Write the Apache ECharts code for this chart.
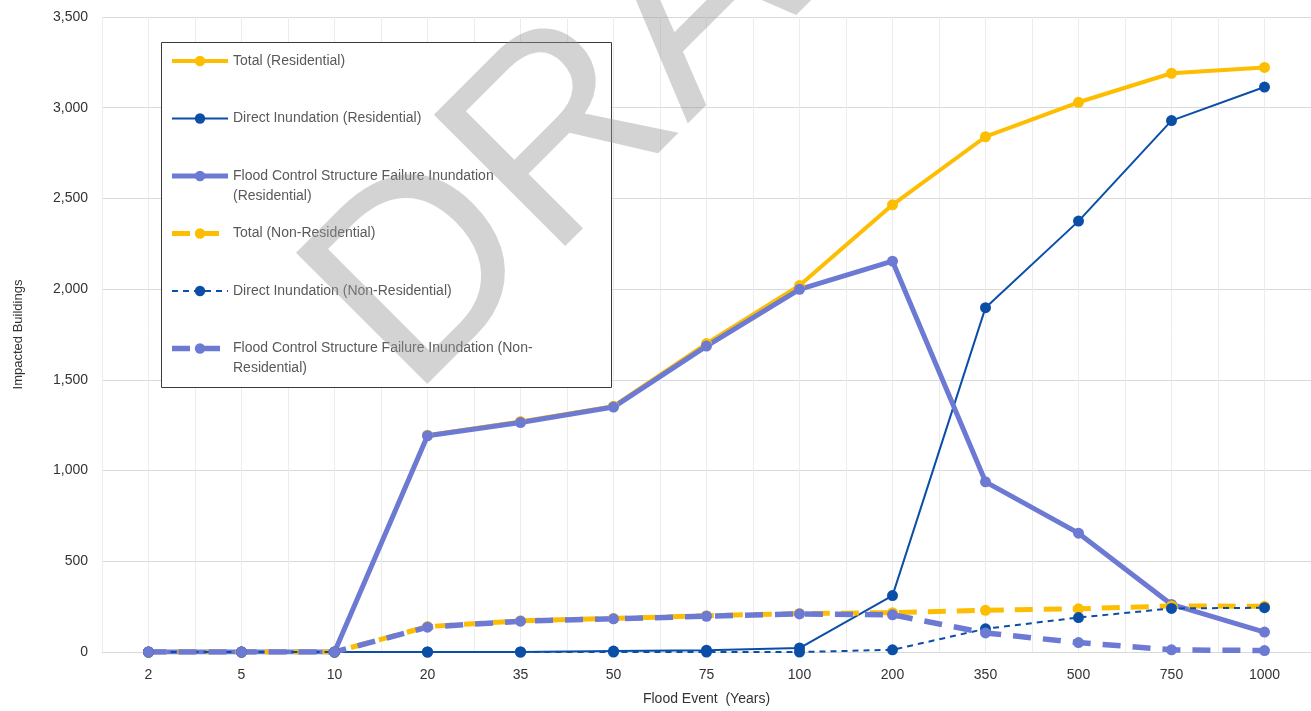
<!DOCTYPE html>
<html>
<head>
<meta charset="utf-8">
<title>Impacted Buildings by Flood Event</title>
<script src="https://cdn.jsdelivr.net/npm/echarts@6/dist/echarts.min.js"></script>
<style>
  html, body { margin: 0; padding: 0; background: #fff; }
  #chart { width: 1311px; height: 711px; }
</style>
</head>
<body>
<div id="chart"></div>
<script>
var floodEvents = ['2', '5', '10', '20', '35', '50', '75', '100', '200', '350', '500', '750', '1000']
var yTicks = [0, 500, 1000, 1500, 2000, 2500, 3000, 3500]

var totalRes = [0, 0, 0, 1195, 1270, 1355, 1700, 2020, 2465, 2840, 3030, 3190, 3222]
var directRes = [0, 0, 0, 0, 0, 5, 10, 22, 311, 1898, 2375, 2929, 3114]
var fcsRes = [0, 0, 0, 1192, 1265, 1350, 1686, 1999, 2154, 938, 655, 262, 110]
var totalNonRes = [0, 0, 0, 140, 172, 185, 200, 212, 217, 230, 238, 254, 252]
var directNonRes = [0, 0, 0, 0, 0, 0, 0, 0, 12, 128, 190, 240, 244]
var fcsNonRes = [0, 0, 0, 137, 170, 183, 197, 210, 205, 105, 52, 12, 8]

var YELLOW = '#FDBD00'
var BLUE = '#0B4EA8'
var PURPLE = '#6D7AD3'
var FONT = 'Arial, "Liberation Sans", sans-serif'

function lineSeries (name, data, color, width, dash) {
  return {
    name: name,
    type: 'line',
    data: data,
    symbol: 'circle',
    symbolSize: 11,
    showAllSymbol: true,
    itemStyle: { color: color },
    lineStyle: { color: color, width: width, type: dash || 'solid' },
    emphasis: { disabled: true }
  }
}

var series = [
  lineSeries('Total (Residential)', totalRes, YELLOW, 4),
  lineSeries('Direct Inundation (Residential)', directRes, BLUE, 2),
  lineSeries('Flood Control Structure Failure Inundation\n(Residential)', fcsRes, PURPLE, 5),
  lineSeries('Total (Non-Residential)', totalNonRes, YELLOW, 5, [18, 11]),
  lineSeries('Direct Inundation (Non-Residential)', directNonRes, BLUE, 2, [6, 5]),
  lineSeries('Flood Control Structure Failure Inundation (Non-\nResidential)', fcsNonRes, PURPLE, 5.5, [18, 12])
]

// one legend per entry so every row keeps the same step, like the original box
var legends = series.map(function (s, i) {
  var twoLine = s.name.indexOf('\n') >= 0
  var center = 61 + i * 57.5
  return {
    data: [s.name],
    orient: 'vertical',
    left: 172 - s.lineStyle.width / 2,
    top: center - (twoLine ? 30 : 10),
    padding: 0,
    itemWidth: 56,
    itemHeight: 13,
    selectedMode: false,
    lineStyle: { width: 'inherit' },
    // empty first line keeps the icon level with the first text line
    formatter: function (name) { return twoLine ? '\n' + name : name },
    textStyle: { color: '#595959', fontSize: 14, lineHeight: 20, fontFamily: FONT }
  }
})

var chart = echarts.init(document.getElementById('chart'))

chart.setOption({
  animation: false,
  backgroundColor: '#fff',
  textStyle: { fontFamily: FONT },
  grid: { left: 102, right: 0, top: 17, bottom: 56 },
  legend: legends,
  xAxis: [{
    type: 'category',
    data: floodEvents,
    boundaryGap: true,
    name: 'Flood Event  (Years)',
    nameLocation: 'middle',
    nameGap: 40,
    nameTextStyle: { color: '#333', fontSize: 14 },
    axisLine: { lineStyle: { color: '#d9d9d9' } },
    axisTick: { show: false },
    axisLabel: { color: '#333', fontSize: 14, margin: 16 },
    splitLine: { show: false }
  }, {
    // half-band vertical grid lines
    type: 'value',
    position: 'bottom',
    min: -0.5,
    max: floodEvents.length - 0.5,
    interval: 0.5,
    axisLine: { show: false },
    axisTick: { show: false },
    axisLabel: { show: false },
    splitLine: { show: true, lineStyle: { color: '#ececec', width: 1 } }
  }],
  yAxis: {
    type: 'value',
    min: yTicks[0],
    max: yTicks[yTicks.length - 1],
    interval: yTicks[1] - yTicks[0],
    name: 'Impacted Buildings',
    nameLocation: 'middle',
    nameGap: 77,
    nameTextStyle: { color: '#333', fontSize: 13 },
    axisLine: { show: false },
    axisTick: { show: false },
    axisLabel: {
      color: '#333',
      fontSize: 14,
      margin: 14,
      formatter: function (v) { return v.toLocaleString('en-US') }
    },
    splitLine: { lineStyle: { color: '#d9d9d9', width: 1 } }
  },
  series: series,
  graphic: [{
    // legend frame
    type: 'rect',
    z: 3,
    silent: true,
    shape: { x: 161.5, y: 42.5, width: 450, height: 345 },
    style: { fill: '#fff', stroke: '#3a3a3a', lineWidth: 1 }
  }, {
    type: 'text',
    z: 100,
    silent: true,
    x: 359,
    y: 347,
    rotation: Math.PI / 4,
    style: {
      text: 'DRAFT',
      font: '270px ' + FONT,
      fill: 'rgba(150,150,150,0.42)',
      align: 'left',
      verticalAlign: 'middle'
    }
  }]
})
</script>
</body>
</html>
